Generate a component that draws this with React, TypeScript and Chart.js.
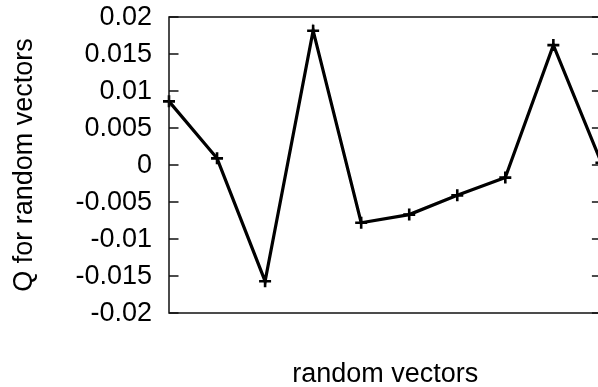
import React, { useEffect, useRef } from "react";
import { Chart, registerables } from "chart.js";

Chart.register(...registerables);

const categories = ["1", "2", "3", "4", "5", "6", "7", "8", "9", "10"];
const qValues = [0.0086, 0.0009, -0.0157, 0.01815, -0.0078, -0.0067, -0.0041, -0.0017, 0.0162, 0.0003];
const yTickMin = -0.02;
const yTickMax = 0.02;
const yTickStep = 0.005;

const FONT = "'Liberation Sans', Arial, Helvetica, sans-serif";
const FONT_SIZE = 27;

const framePlugin = {
  id: "frameTicks",
  afterDraw(chart: any) {
    const { ctx, chartArea } = chart;
    const { left, right, top, bottom } = chartArea;
    const y = chart.scales.y;
    ctx.save();
    ctx.strokeStyle = "#111";
    ctx.lineWidth = 1.5;
    ctx.strokeRect(left, top, right - left, bottom - top);
    ctx.beginPath();
    y.ticks.forEach((t: any) => {
      const py = y.getPixelForValue(t.value);
      ctx.moveTo(left, py);
      ctx.lineTo(left + 9.5, py);
      ctx.moveTo(right - 9.5, py);
      ctx.lineTo(right, py);
    });
    ctx.stroke();
    ctx.restore();
  },
};

export default function App() {
  const ref = useRef<HTMLCanvasElement>(null);
  useEffect(() => {
    if (!ref.current) return;
    const chart = new Chart(ref.current, {
      type: "line",
      data: {
        labels: categories,
        datasets: [
          {
            data: qValues,
            borderColor: "#000",
            backgroundColor: "#000",
            borderWidth: 3.2,
            pointStyle: "cross",
            pointRadius: 6,
            pointBorderWidth: 2.6,
            pointBorderColor: "#000",
            tension: 0,
            fill: false,
          },
        ],
      },
      options: {
        animation: false,
        responsive: false,
        maintainAspectRatio: false,
        layout: { padding: { top: 17, right: 8.6, left: 0, bottom: 0 } },
        plugins: { legend: { display: false }, tooltip: { enabled: false } },
        scales: {
          x: {
            type: "category",
            offset: false,
            grid: { display: false, drawTicks: false },
            border: { display: false },
            ticks: { display: false },
            title: {
              display: true,
              text: "random vectors",
              color: "#000",
              font: { family: FONT, size: FONT_SIZE },
              padding: { top: 0, bottom: 1.4 },
            },
            afterFit: (s: any) => {
              s.height = 79;
              s.paddingLeft = 0;
              s.paddingRight = 0;
            },
          },
          y: {
            min: yTickMin,
            max: yTickMax,
            grid: { display: false, drawTicks: false },
            border: { display: false },
            ticks: {
              stepSize: yTickStep,
              color: "#000",
              padding: 17,
              labelOffset: 1,
              font: { family: FONT, size: FONT_SIZE },
              callback: (v: any) => String(Number(Number(v).toFixed(4)) + 0),
            },
            title: {
              display: true,
              text: "Q for random vectors",
              color: "#000",
              font: { family: FONT, size: FONT_SIZE },
              padding: { top: 8.7, bottom: 0 },
            },
            afterFit: (s: any) => {
              s.width = 169;
              s.paddingTop = 0;
              s.paddingBottom = 0;
            },
          },
        },
      },
      plugins: [framePlugin],
    });
    return () => chart.destroy();
  }, []);
  return (
    <div style={{ position: "fixed", left: 0, top: 0, width: 598, height: 387, overflow: "hidden" }}>
      <canvas ref={ref} width={610} height={392} style={{ width: 610, height: 392, display: "block" }} />
    </div>
  );
}
